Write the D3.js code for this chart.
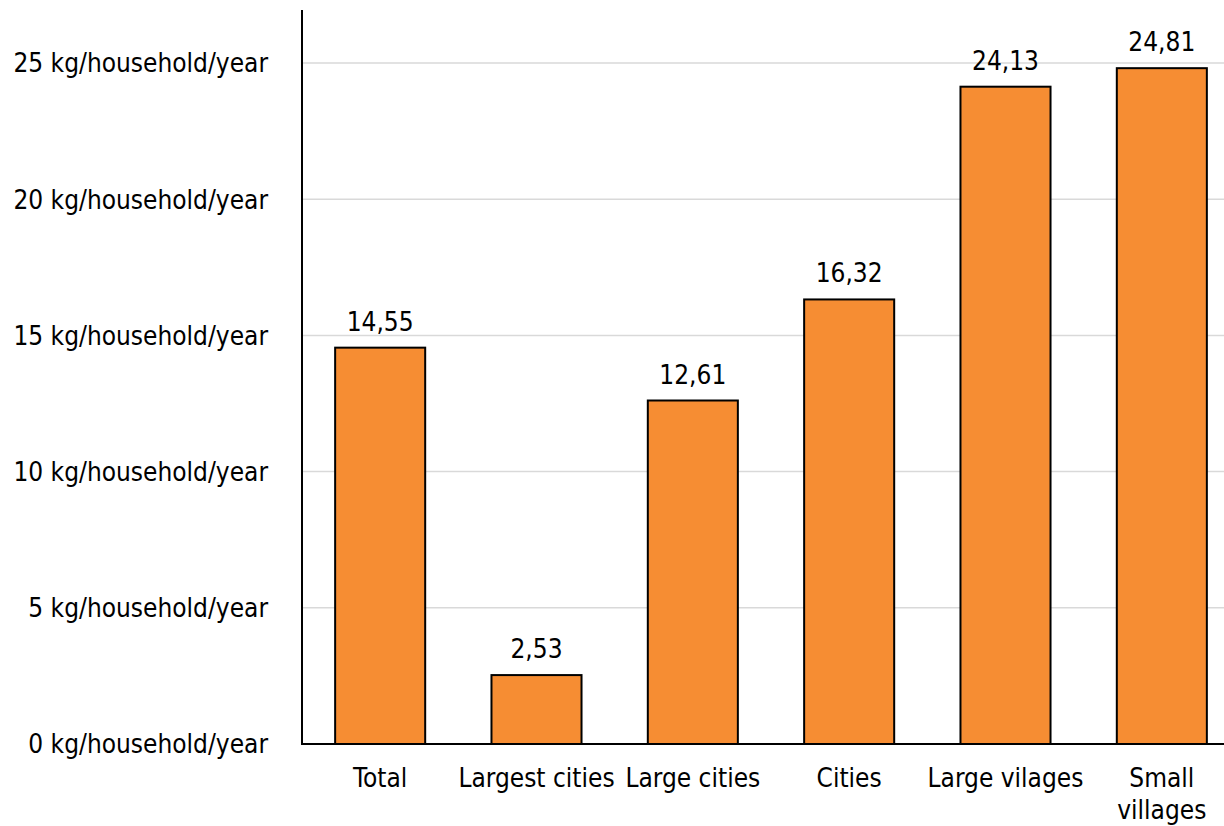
<!DOCTYPE html>
<html><head><meta charset="utf-8">
<script src="https://cdn.jsdelivr.net/npm/d3@7"></script>
<style>body{margin:0;background:#fff}svg{display:block}text{font-family:"DejaVu Sans Condensed","DejaVu Sans",sans-serif;fill:#000}</style>
</head><body><svg id="c" width="1224" height="826"></svg>
<script>
const categories = ["Total", "Largest cities", "Large cities", "Cities", "Large vilages", "Small\nvillages"];
const values = [14.55, 2.53, 12.61, 16.32, 24.13, 24.81];
const valueLabels = ["14,55", "2,53", "12,61", "16,32", "24,13", "24,81"];
const yTicks = [0, 5, 10, 15, 20, 25];
const yTickLabels = ["0 kg/household/year", "5 kg/household/year", "10 kg/household/year", "15 kg/household/year", "20 kg/household/year", "25 kg/household/year"];

const svg = d3.select("#c");
const W = 1224, left = 302, base = 744;
const y = d3.scaleLinear().domain([0, 25]).range([base, 63]);
const x = d3.scaleBand().domain(categories).range([left, 1240]).paddingInner(0.424).paddingOuter(0.212);
const fs = 26;

// gridlines
svg.append("g").selectAll("line").data(yTicks.filter(d => d > 0)).join("line")
  .attr("x1", left).attr("x2", W).attr("y1", d => y(d)).attr("y2", d => y(d))
  .attr("stroke", "#d9d9d9").attr("stroke-width", 1.5);

// y tick labels
svg.append("g").selectAll("text").data(yTicks).join("text")
  .attr("x", 268).attr("y", d => y(d)).attr("dy", "0.36em")
  .attr("text-anchor", "end").attr("font-size", fs)
  .text((d, i) => yTickLabels[i]);

// bars
svg.append("g").selectAll("rect").data(values).join("rect")
  .attr("x", (d, i) => x(categories[i])).attr("width", x.bandwidth())
  .attr("y", d => y(d)).attr("height", d => base - y(d))
  .attr("fill", "#F68D33").attr("stroke", "#000").attr("stroke-width", 2);

// value labels
svg.append("g").selectAll("text").data(values).join("text")
  .attr("x", (d, i) => x(categories[i]) + x.bandwidth() / 2)
  .attr("y", d => y(d) - 17)
  .attr("text-anchor", "middle").attr("font-size", fs)
  .text((d, i) => valueLabels[i]);

// axes lines
svg.append("line").attr("x1", left).attr("x2", left).attr("y1", y(26.95)).attr("y2", base + 1)
  .attr("stroke", "#000").attr("stroke-width", 2);
svg.append("line").attr("x1", left).attr("x2", W).attr("y1", base).attr("y2", base)
  .attr("stroke", "#000").attr("stroke-width", 2);

// x labels
const xl = svg.append("g").selectAll("text").data(categories).join("text")
  .attr("x", d => x(d) + x.bandwidth() / 2).attr("y", 778)
  .attr("text-anchor", "middle").attr("font-size", fs);
xl.each(function(d) {
  const parts = d.split("\n");
  d3.select(this).selectAll("tspan").data(parts).join("tspan")
    .attr("x", x(d) + x.bandwidth() / 2).attr("dy", (p, i) => i === 0 ? "0.36em" : "1.2em").text(p => p);
});
</script></body></html>
